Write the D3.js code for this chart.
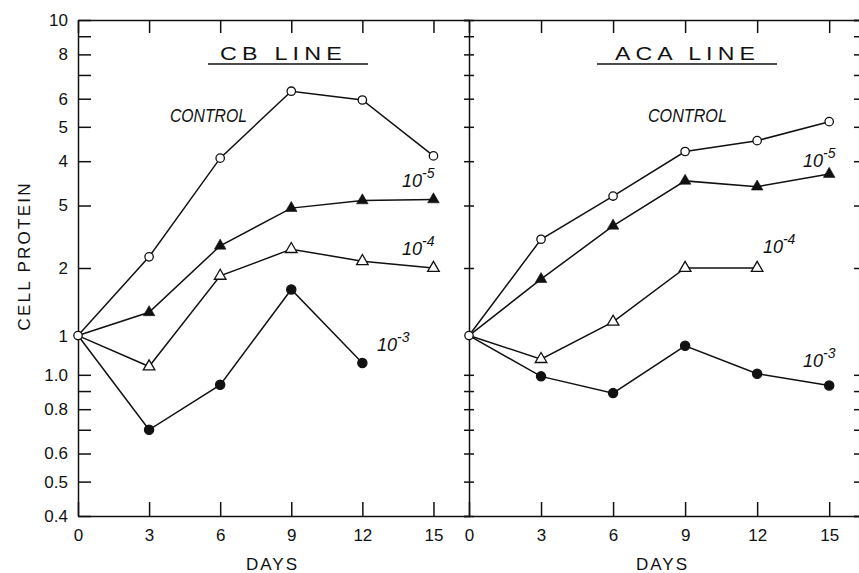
<!DOCTYPE html>
<html lang="en">
<head>
<meta charset="UTF-8">
<title>Cell protein - CB line / ACA line</title>
<script src="https://d3js.org/d3.v7.min.js"></script>
<style>
  body { margin: 0; background: #fff; }
  text { font-family: "Liberation Sans", Arial, sans-serif; fill: #111; }
  .axis path, .axis line { stroke: #111; stroke-width: 1.5; }
  .axis text { font-size: 17px; }
  .series { fill: none; stroke: #111; stroke-width: 1.5; }
  .note { font-style: italic; }
</style>
</head>
<body>
<svg width="859" height="573"></svg>
<script>
// days on the x axis
const days = [0, 3, 6, 9, 12, 15];
// common starting value (drawn with the label "1")
const startValue = 1.29;

// CB line
const cbControl = [startValue, 2.15, 4.08, 6.3, 5.95, 4.14];
const cb1e5     = [startValue, 1.50, 2.31, 2.95, 3.10, 3.12];
const cb1e4     = [startValue, 1.055, 1.90, 2.26, 2.09, 2.0];
const cb1e3     = [startValue, 0.70, 0.937, 1.74, 1.08];

// ACA line
const acaControl = [startValue, 2.41, 3.19, 4.26, 4.57, 5.17];
const aca1e5     = [startValue, 1.86, 2.63, 3.52, 3.39, 3.68];
const aca1e4     = [startValue, 1.107, 1.41, 2.0, 2.0];
const aca1e3     = [startValue, 0.99, 0.888, 1.207, 1.007, 0.933];

// y ticks (labels as printed on the figure)
const yTickValues = [10, 9, 8, 7, 6, 5, 4, 3, 2, 1, 0.9, 0.8, 0.7, 0.6, 0.5, 0.4];
const yTickLabels = ["10", "", "8", "", "6", "5", "4", "5", "2", "1.0", "", "0.8", "", "0.6", "0.5", "0.4"];

const svg = d3.select("svg");

// log scale shared by both panels
const y = d3.scaleLog().domain([0.4, 10]).range([516, 20]);

const panels = [
    {
        title: "CB LINE", titleX: 283.5, titleLen: 127, ulFrom: 208, ulTo: 368,
        x: d3.scaleLinear().domain([0, 16.5]).range([78, 469]),
        series: [
            { values: cbControl, marker: "openCircle" },
            { values: cb1e5, marker: "filledTriangle" },
            { values: cb1e4, marker: "openTriangle" },
            { values: cb1e3, marker: "filledCircle" }
        ],
        notes: [
            { text: "CONTROL", day: 3.88, value: 5.16, len: 77 },
            { text: "10", sup: "-5", day: 13.67, value: 3.38 },
            { text: "10", sup: "-4", day: 13.67, value: 2.18 },
            { text: "10", sup: "-3", day: 12.62, value: 1.168 }
        ]
    },
    {
        title: "ACA LINE", titleX: 687.5, titleLen: 145, ulFrom: 597, ulTo: 777,
        x: d3.scaleLinear().domain([0, 16.2]).range([469, 858]),
        series: [
            { values: acaControl, marker: "openCircle" },
            { values: aca1e5, marker: "filledTriangle" },
            { values: aca1e4, marker: "openTriangle" },
            { values: aca1e3, marker: "filledCircle" }
        ],
        notes: [
            { text: "CONTROL", day: 7.45, value: 5.16, len: 79 },
            { text: "10", sup: "-5", day: 13.91, value: 3.855 },
            { text: "10", sup: "-4", day: 12.24, value: 2.207 },
            { text: "10", sup: "-3", day: 13.91, value: 1.053 }
        ]
    }
];

const yLabel = (d, i) => yTickLabels[i];

// left axis with labels, ticks pointing inwards
svg.append("g").attr("class", "axis")
    .attr("transform", "translate(78,0)")
    .call(d3.axisLeft(y).tickValues(yTickValues).tickFormat(yLabel)
        .tickSizeInner(-13).tickSizeOuter(0).tickPadding(10));

// "1" printed next to the starting point
svg.append("text")
    .attr("x", 68).attr("y", y(startValue)).attr("dy", "0.35em")
    .attr("text-anchor", "end").style("font-size", "17px")
    .text("1");

// middle axis: small crosses
svg.append("g").attr("class", "axis")
    .attr("transform", "translate(469,0)")
    .call(d3.axisLeft(y).tickValues(yTickValues).tickFormat("").tickSize(5))
    .call(g => g.selectAll(".tick line").attr("x1", 5));

// right axis, short ticks at the edge
svg.append("g").attr("class", "axis")
    .attr("transform", "translate(860,0)")
    .call(d3.axisLeft(y).tickValues(yTickValues).tickFormat("").tickSize(6));

// y axis title
svg.append("text")
    .attr("transform", "translate(30,257) rotate(-90)")
    .attr("text-anchor", "middle")
    .attr("textLength", 147).attr("lengthAdjust", "spacing")
    .style("font-size", "17px")
    .text("CELL PROTEIN");

const line = d3.line();

panels.forEach(p => {
    const x = p.x;

    // bottom axis
    svg.append("g").attr("class", "axis")
        .attr("transform", "translate(0,516)")
        .call(d3.axisBottom(x).tickValues(days).tickFormat(d3.format("d"))
            .tickSizeInner(-14).tickSizeOuter(0).tickPadding(13));

    // top border with ticks
    svg.append("g").attr("class", "axis")
        .attr("transform", "translate(0,20)")
        .call(d3.axisTop(x).tickValues(days).tickFormat("")
            .tickSizeInner(-13).tickSizeOuter(0));

    // x axis title
    svg.append("text")
        .attr("x", (x.range()[0] + x.range()[1]) / 2 - 1).attr("y", 570)
        .attr("text-anchor", "middle")
        .style("font-size", "17px").style("letter-spacing", "2px")
        .text("DAYS");

    // panel title, underlined (wide lettering)
    svg.append("text")
        .attr("x", p.titleX).attr("y", 60)
        .attr("text-anchor", "middle")
        .attr("textLength", p.titleLen).attr("lengthAdjust", "spacingAndGlyphs")
        .style("font-size", "18px").style("letter-spacing", "4px")
        .text(p.title);
    svg.append("line")
        .attr("x1", p.ulFrom).attr("x2", p.ulTo)
        .attr("y1", 64).attr("y2", 64)
        .attr("stroke", "#111").attr("stroke-width", 1.6);

    // lines
    p.series.forEach(s => {
        const pts = s.values.map((v, i) => [x(days[i]), y(v)]);
        svg.append("path").attr("class", "series").attr("d", line(pts));
    });

    // markers (skip the shared day-0 point)
    p.series.forEach(s => {
        const pts = s.values.map((v, i) => ({ d: days[i], v: v })).slice(1);
        const g = svg.append("g");
        if (s.marker === "openCircle" || s.marker === "filledCircle") {
            const filled = s.marker === "filledCircle";
            g.selectAll("circle").data(pts).join("circle")
                .attr("cx", d => x(d.d)).attr("cy", d => y(d.v))
                .attr("r", filled ? 4.6 : 4.2)
                .attr("fill", filled ? "#111" : "#fff")
                .attr("stroke", "#111").attr("stroke-width", 1.3);
        } else {
            const filled = s.marker === "filledTriangle";
            g.selectAll("path").data(pts).join("path")
                .attr("transform", d => `translate(${x(d.d)},${y(d.v)})`)
                .attr("d", d3.symbol(d3.symbolTriangle, 58))
                .attr("fill", filled ? "#111" : "#fff")
                .attr("stroke", "#111").attr("stroke-width", filled ? 0.6 : 1.3);
        }
    });

    // shared starting point
    svg.append("circle")
        .attr("cx", x(0)).attr("cy", y(startValue)).attr("r", 4.2)
        .attr("fill", "#fff").attr("stroke", "#111").attr("stroke-width", 1.3);

    // annotations
    p.notes.forEach(n => {
        const t = svg.append("text").attr("class", "note")
            .attr("x", x(n.day)).attr("y", y(n.value));
        if (n.sup) {
            t.append("tspan").style("font-size", "18px").text(n.text);
            t.append("tspan").style("font-size", "14px").attr("dy", -9).text(n.sup);
        } else {
            t.style("font-size", "18px")
                .attr("textLength", n.len).attr("lengthAdjust", "spacingAndGlyphs")
                .text(n.text);
        }
    });
});
</script>
</body>
</html>
